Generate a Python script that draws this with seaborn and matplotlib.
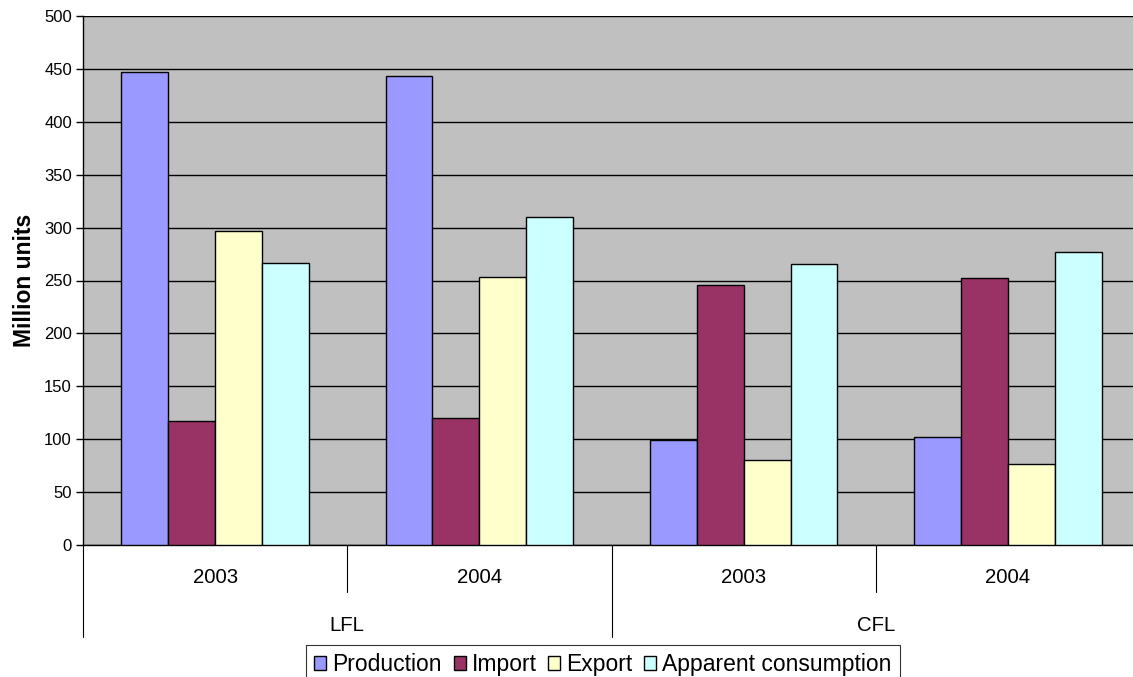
import numpy as np
import matplotlib.pyplot as plt
import matplotlib.transforms as mtransforms
import pandas as pd
import seaborn as sns

# chart data
groups = ["LFL 2003", "LFL 2004", "CFL 2003", "CFL 2004"]
years = ["2003", "2004", "2003", "2004"]
lamp_types = ["LFL", "CFL"]
series = ["Production", "Import", "Export", "Apparent consumption"]
production = [447, 443, 99, 102]
imports = [117, 120, 246, 252]
exports = [297, 253, 80, 77]
consumption = [267, 310, 266, 277]
colors = ["#9999FF", "#993366", "#FFFFCC", "#CCFFFF"]

rows = []
for name, vals in zip(series, [production, imports, exports, consumption]):
    for g, v in zip(groups, vals):
        rows.append({"group": g, "series": name, "value": v})
df = pd.DataFrame(rows)

sns.set_style("white")
plt.rcParams["font.family"] = ["Liberation Sans", "DejaVu Sans"]
plt.rcParams["text.color"] = "black"
plt.rcParams["axes.labelcolor"] = "black"
plt.rcParams["ytick.color"] = "black"

fig = plt.figure(figsize=(11.33, 6.77), dpi=100)
W, H = 1133, 677
ax = fig.add_axes([83 / W, (H - 545) / H, (1140 - 83) / W, (545 - 16) / H])
ax.set_facecolor("#C0C0C0")

sns.barplot(data=df, x="group", y="value", hue="series", order=groups,
            hue_order=series, palette=colors, saturation=1, width=0.71, gap=0,
            edgecolor="black", linewidth=1, ax=ax, legend=False, zorder=3)

ax.set_ylim(0, 500)
ax.set_xlim(-0.5, 3.5)
ax.set_yticks(np.arange(0, 501, 50))
ax.yaxis.grid(True, color="black", linewidth=1)
ax.set_axisbelow(True)
ax.tick_params(axis="y", direction="out", length=5, width=1, color="black",
               labelcolor="black", labelsize=12, pad=3, left=True)
ax.set_xticks([])
ax.set_xlabel("")
ax.set_ylabel("Million units", fontsize=16.5, fontweight="bold", labelpad=6,
              color="black")
for side in ["left", "bottom"]:
    ax.spines[side].set_color("black")
    ax.spines[side].set_linewidth(1)
ax.spines["top"].set_visible(False)
ax.spines["right"].set_visible(False)

# two-level category axis
trans = mtransforms.blended_transform_factory(ax.transData, ax.transAxes)
for xpos, low in [(-0.5, -0.174), (0.5, -0.089), (1.5, -0.174), (2.5, -0.089), (3.5, -0.174)]:
    ax.plot([xpos, xpos], [0, low], color="black", linewidth=0.8,
            transform=trans, clip_on=False)
for i, yr in enumerate(years):
    ax.text(i, -0.062, yr, transform=trans, ha="center", va="center",
            fontsize=14.7, color="black")
for i, t in enumerate(lamp_types):
    ax.text(0.5 + 2 * i, -0.153, t, transform=trans, ha="center", va="center",
            fontsize=14.7, color="black")

handles = [plt.Rectangle((0, 0), 1, 1, facecolor=c, edgecolor="black", linewidth=1)
           for c in colors]
leg = fig.legend(handles, series, loc="upper center", bbox_to_anchor=(603 / W, (H - 645) / H),
                 ncol=4, fontsize=16.5, frameon=True, fancybox=False, edgecolor="black",
                 handlelength=0.52, handleheight=0.52, handletextpad=0.26,
                 columnspacing=0.52, borderpad=0.35, borderaxespad=0)
leg.get_frame().set_linewidth(0.8)
for txt in leg.get_texts():
    txt.set_color("black")

fig.savefig("out.png", dpi=100)
